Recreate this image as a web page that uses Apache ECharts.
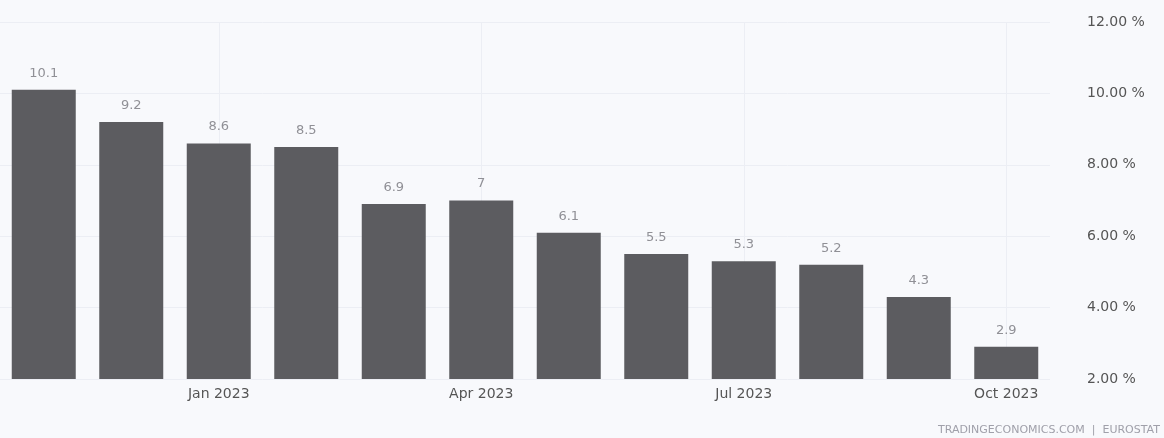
<!DOCTYPE html>
<html>
<head>
<meta charset="utf-8">
<script src="https://cdn.jsdelivr.net/npm/echarts@6/dist/echarts.min.js"></script>
<style>
html,body{margin:0;padding:0;background:#f8f9fc;}
#c{width:1164px;height:438px;}
</style>
</head>
<body>
<div id="c"></div>
<script>
const categories = ['Nov 2022','Dec 2022','Jan 2023','Feb 2023','Mar 2023','Apr 2023','May 2023','Jun 2023','Jul 2023','Aug 2023','Sep 2023','Oct 2023'];
const values = [10.1, 9.2, 8.6, 8.5, 6.9, 7, 6.1, 5.5, 5.3, 5.2, 4.3, 2.9];
const yTicks = [2, 4, 6, 8, 10, 12];
const sourceText = 'TRADINGECONOMICS.COM  |  EUROSTAT';

const chart = echarts.init(document.getElementById('c'));
chart.setOption({
  backgroundColor: '#f8f9fc',
  animation: false,
  grid: {left: 0, right: 114, top: 22, bottom: 59},
  graphic: [{
    type: 'text', right: 4, bottom: 2,
    style: {text: sourceText, fill: '#a0a0aa', font: '11px "DejaVu Sans"'}
  }],
  xAxis: {
    type: 'category',
    data: categories,
    axisLine: {show: false},
    axisTick: {show: false, alignWithLabel: true},
    splitLine: {show: true, alignWithLabel: true, interval: (i) => i % 3 === 2, lineStyle: {color: '#eceef4'}},
    axisLabel: {
      interval: (i) => i % 3 === 2,
      color: '#555',
      fontSize: 14,
      fontFamily: 'DejaVu Sans',
      margin: 8,
      formatter: (v) => v
    }
  },
  yAxis: {
    type: 'value',
    position: 'right',
    min: yTicks[0],
    max: yTicks[yTicks.length - 1],
    interval: 2,
    axisLine: {show: false},
    axisTick: {show: false},
    splitLine: {lineStyle: {color: '#eceef4'}},
    axisLabel: {
      color: '#555',
      fontSize: 14,
      fontFamily: 'DejaVu Sans',
      margin: 37,
      formatter: (v) => v.toFixed(2) + ' %'
    }
  },
  series: [{
    type: 'bar',
    data: values,
    barWidth: 64,
    itemStyle: {color: '#5c5c60'},
    label: {
      show: true,
      position: 'top',
      distance: 10,
      color: '#909096',
      fontSize: 13,
      fontFamily: 'DejaVu Sans',
      formatter: (p) => String(p.value)
    }
  }]
});
</script>
</body>
</html>
